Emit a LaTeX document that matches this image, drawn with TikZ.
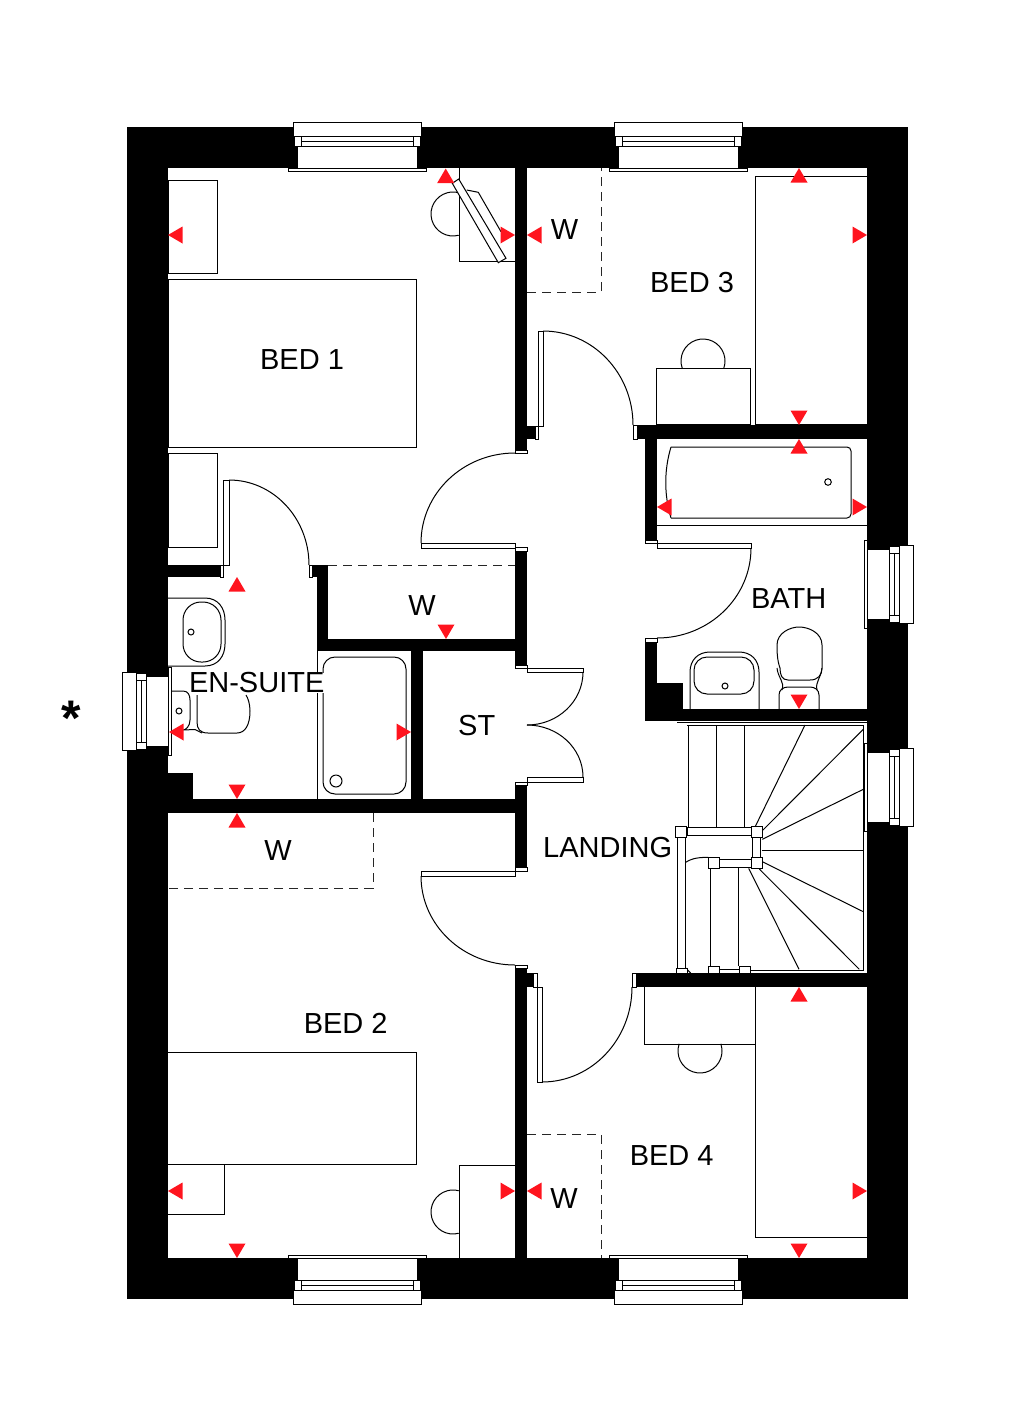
\documentclass[tikz,border=0pt]{standalone}
\usepackage{fontspec}
\setmainfont{Liberation Sans}
\definecolor{markred}{HTML}{FF141E}
\tikzset{
    planline/.style={black, line width=1pt},
    sheet/.style={planline, fill=white},
    hidden/.style={black!85, line width=1pt, dash pattern=on 9pt off 6pt},
    redmark/.style={fill=markred},
    roomname/.style={inner sep=0pt, font=\fontsize{29}{30}\selectfont}
}
% window drawn from its outside face, w = #1
\newcommand{\planwindow}[1]{
    \fill [white] (4,20) rectangle (#1-4,46);
    \draw [sheet] (0,0) rectangle (#1,14);
    \draw [sheet] (1,14) rectangle (#1-1,24);
    \draw [planline] (8,14) -- (8,24);
    \draw [planline] (#1-8,14) -- (#1-8,24);
    \draw [planline] (8,19) -- (#1-8,19);
    \draw [planline] (4,24) -- (4,46);
    \draw [planline] (#1-4,24) -- (#1-4,46);
    \draw [sheet] (-5,46) rectangle (#1+5,49);
}
\begin{document}
\begin{tikzpicture}[x=1pt, y=1pt, yscale=-1]
    \useasboundingbox (0,0) rectangle (1035,1427);

    % outer walls
    \fill (127,127) rectangle (908,168);
    \fill (127,1258) rectangle (908,1299);
    \fill (127,127) rectangle (168,1299);
    \fill (867,127) rectangle (908,1299);

    % inner walls
    \fill (515,168) rectangle (527,450);
    \fill (527,426) rectangle (535,439);
    \fill (515,551) rectangle (527,665);
    \fill (515,785) rectangle (527,867);
    \fill (515,968) rectangle (527,1258);
    \fill (527,973) rectangle (533,987);
    \fill (637,425) rectangle (867,439);
    \fill (645,439) rectangle (657,540);
    \fill (645,642) rectangle (657,721);
    \fill (657,683) rectangle (683,709);
    \fill (645,709) rectangle (867,721);
    \fill (636,973) rectangle (867,987);
    \fill (168,565) rectangle (220,577);
    \fill (312,565) rectangle (328,577);
    \fill (317,577) rectangle (328,651);
    \fill (317,639) rectangle (515,651);
    \fill (411,651) rectangle (423,799);
    \fill (168,799) rectangle (515,813);
    \fill (168,773) rectangle (193,799);

    % windows
    \begin{scope}[shift={(293,122)}]
        \planwindow{128}
    \end{scope}
    \begin{scope}[shift={(614,122)}]
        \planwindow{128}
    \end{scope}
    \begin{scope}[shift={(293,1304)}, yscale=-1]
        \planwindow{128}
    \end{scope}
    \begin{scope}[shift={(614,1304)}, yscale=-1]
        \planwindow{128}
    \end{scope}
    \begin{scope}[cm={0,1,1,0,(122,672)}]
        \planwindow{78}
    \end{scope}
    \begin{scope}[cm={0,1,-1,0,(913,545)}]
        \planwindow{78}
    \end{scope}
    \begin{scope}[cm={0,1,-1,0,(913,748)}]
        \planwindow{78}
    \end{scope}

    % door leaves and jambs
    \draw [sheet] (538,331) rectangle (543,426);
    \draw [sheet] (535,426) rectangle (538,439);
    \draw [planline] (543,331) arc [start angle=-90, end angle=0, x radius=90, y radius=94];
    \draw [sheet] (633,425) rectangle (637,439);

    \draw [sheet] (515,450) rectangle (527,453);
    \draw [planline] (515,453) arc [start angle=-90, end angle=-180, x radius=94, y radius=90];
    \draw [sheet] (421,543) rectangle (515,548);
    \draw [sheet] (515,547) rectangle (527,551);

    \draw [sheet] (645,540) rectangle (657,543);
    \draw [sheet] (657,543) rectangle (751,548);
    \draw [planline] (751,548) arc [start angle=0, end angle=90, x radius=94, y radius=90];
    \draw [sheet] (645,638) rectangle (657,642);

    \draw [sheet] (223,480) rectangle (229,565);
    \draw [planline] (229,480) arc [start angle=-90, end angle=0, x radius=80, y radius=85];
    \draw [sheet] (220,565) rectangle (223,577);
    \draw [sheet] (309,565) rectangle (312,577);

    \draw [sheet] (515,665) rectangle (527,668);
    \draw [sheet] (527,668) rectangle (583,672);
    \draw [planline] (583,672) arc [start angle=0, end angle=90, x radius=56, y radius=53];
    \draw [planline] (527,725) arc [start angle=-90, end angle=0, x radius=56, y radius=52];
    \draw [sheet] (527,777) rectangle (583,782);
    \draw [sheet] (515,782) rectangle (527,785);

    \draw [sheet] (515,867) rectangle (527,871);
    \draw [sheet] (421,871) rectangle (515,876);
    \draw [planline] (421,876) arc [start angle=180, end angle=90, x radius=94, y radius=89];
    \draw [sheet] (515,965) rectangle (527,968);

    \draw [sheet] (533,973) rectangle (537,987);
    \draw [sheet] (537,987) rectangle (542,1082);
    \draw [planline] (542,1082) arc [start angle=90, end angle=0, x radius=90, y radius=95];
    \draw [sheet] (632.5,973) rectangle (636,987);

    % bed 1
    \draw [planline] (168,279) rectangle (416,447);
    \draw [planline] (168,180) rectangle (217,273);
    \draw [planline] (168,453) rectangle (217,547);
    \draw [planline] (515,261) -- (459,261) -- (459,168);
    \draw [planline] (453,214) ++(75:22) arc [start angle=75, end angle=285, radius=22];
    \draw [planline] (466.7,190) -- (478.3,192.3) -- (501,231.7);
    \draw [sheet] (458.7,179) -- (452.3,183.3) -- (498.3,262.7) -- (506,258.3) -- cycle;

    % bed 3
    \draw [hidden] (527,292) -- (601,292) -- (601,168);
    \draw [planline] (867,176) -- (755.7,176) -- (755.7,424) -- (867,424);
    \draw [planline] (656,368) rectangle (750,424);
    \draw [planline] (703,361) ++(161:22) arc [start angle=161, end angle=379, radius=22];

    % bath
    \draw [planline, rounded corners=4pt] (671,447) -- (851,447) -- (851,518) -- (671,518);
    \draw [planline] (671,447) .. controls (664,470) and (664,495) .. (671,518);
    \draw [planline] (828,482) circle (3.3);
    \draw [planline] (657,525) -- (867,525);
    \draw [planline] (690,709) -- (690,672) .. controls (690,660) and (698,652) .. (710,652) -- (739,652) .. controls (751,652) and (759,660) .. (759,672) -- (759,709);
    \draw [planline, rounded corners=13pt] (694,657) rectangle (754,694);
    \draw [planline] (725,686) circle (3);
    \draw [planline] (780,668) .. controls (777,660) and (777,650) .. (777,645) .. controls (777,633) and (790,627) .. (799,627) .. controls (809,627) and (822,633) .. (822,645) -- (822,668) .. controls (822,675) and (818,680) .. (810,680) -- (788,680) .. controls (782,680) and (780,675) .. (780,668);
    \draw [planline] (777,668) .. controls (778,678) and (785,682) .. (782,690);
    \draw [planline] (822,668) .. controls (821,678) and (815,682) .. (817,690);
    \draw [planline] (779,709) -- (779,695) .. controls (779,690) and (783,687) .. (788,687) -- (810,687) .. controls (815,687) and (819,690) .. (819,695) -- (819,709);

    % en-suite
    \draw [planline] (168,598) -- (205,598) .. controls (218,598) and (225,608) .. (225,620) -- (225,644) .. controls (225,656) and (218,666) .. (205,666) -- (168,666);
    \draw [planline, rounded corners=18pt] (183,602) rectangle (221,662);
    \draw [planline] (191,632) circle (3);
    \draw [planline] (171,691) -- (183,691) .. controls (188,691) and (190,695) .. (190,700) -- (190,720) .. controls (190,726) and (186,730) .. (183,730) -- (195,729.5) -- (202,733);
    \draw [planline] (197,695) -- (197,722) .. controls (197,729) and (200,733) .. (208,733) -- (237,733) .. controls (245,733) and (250,725) .. (250,711) .. controls (250,704) and (248,698) .. (246,695);
    \draw [planline] (179,711) circle (3);
    \draw [planline] (317,651) -- (317,799);
    \draw [planline, rounded corners=12pt] (323,657) rectangle (406,794);
    \draw [planline] (336,781) circle (6);

    % small wardrobes
    \draw [hidden] (328,565) -- (515,565);
    \draw [hidden] (373,813) -- (373,888) -- (168,888);
    \draw [hidden] (527,1134) -- (601,1134) -- (601,1258);

    % bed 2
    \draw [planline] (168,1052) -- (416,1052) -- (416,1164) -- (168,1164);
    \draw [planline] (224,1164) -- (224,1214) -- (168,1214);
    \draw [planline] (515,1165) -- (459,1165) -- (459,1258);
    \draw [planline] (453,1212) ++(75:22) arc [start angle=75, end angle=285, radius=22];

    % bed 4
    \draw [planline] (867,1237) -- (755.7,1237) -- (755.7,987);
    \draw [planline] (644,987) -- (644,1044) -- (755.7,1044);
    \draw [planline] (700,1051) ++(199:22) arc [start angle=199, end angle=-19, radius=22];

    % stairs
    \draw [planline] (677,722) -- (867,722);
    \draw [planline] (687,725) -- (863.3,725) -- (863.3,970) -- (750.7,970);
    \draw [planline] (719.7,969.5) -- (739,969.5);
    \foreach \x in {688,716,744} {
        \draw [planline] (\x,725) -- (\x,827);
    }
    \draw [planline] (755,827) -- (805,725);
    \draw [planline] (762.3,830.7) -- (863.3,729.3);
    \draw [planline] (762.3,839.3) -- (863.3,789.3);
    \draw [planline] (761.7,850) -- (863.3,850);
    \draw [planline] (762.3,861.7) -- (863.3,911.7);
    \draw [planline] (759.3,869) -- (859.3,969.3);
    \draw [planline] (748.7,868.3) -- (799,969.3);
    \draw [planline] (710.7,868.7) -- (710.7,966);
    \draw [planline] (738.3,867.3) -- (738.3,966);
    \draw [planline] (685.7,862.3) .. controls (690,859.5) and (695,857.3) .. (708.3,857.3);
    \draw [planline] (685.7,968) -- (690.7,973);
    \draw [sheet] (687,827.3) rectangle (751,835.3);
    \draw [sheet] (752.7,837) rectangle (760.7,857.3);
    \draw [sheet] (719.7,859.3) rectangle (751,867.3);
    \draw [sheet] (677.3,837) rectangle (685.3,968);
    \draw [sheet] (675.7,826) rectangle (686.7,837);
    \draw [sheet] (751,826) rectangle (762.3,837);
    \draw [sheet] (751,857.3) rectangle (762.3,868.7);
    \draw [sheet] (708.3,857.3) rectangle (719.7,868.7);
    \draw [sheet] (676,968) rectangle (687,973);
    \draw [sheet] (708.3,966) rectangle (719.7,973);
    \draw [sheet] (739,966) rectangle (750.7,973);
    \fill (636,973) rectangle (867,987);

    % red marks
    \foreach \x/\y in {445.7/168.5,799/168,799/439,237/577,237/813,799/987} {
        \fill [redmark, shift={(\x,\y)}] (0,0) -- (-8.5,14.5) -- (8.5,14.5) -- cycle;
    }
    \foreach \x/\y in {799/425,799/709,446/639,237/799,799/1258,237/1258} {
        \fill [redmark, shift={(\x,\y)}] (0,0) -- (-8.5,-14.5) -- (8.5,-14.5) -- cycle;
    }
    \foreach \x/\y in {168/235,527/235,657/507,169/732,168/1191,527/1191} {
        \fill [redmark, shift={(\x,\y)}] (0,0) -- (14.5,-8.5) -- (14.5,8.5) -- cycle;
    }
    \foreach \x/\y in {515/235,867/235,867/507,411/732,515/1191,867/1191} {
        \fill [redmark, shift={(\x,\y)}] (0,0) -- (-14.5,-8.5) -- (-14.5,8.5) -- cycle;
    }

    % room names
    \draw (302,359.8) node [roomname] (bedone) {BED 1};
    \draw (692,282.8) node [roomname] (bedthree) {BED 3};
    \draw (345.7,1023.5) node [roomname] (bedtwo) {BED 2};
    \draw (671.7,1155.8) node [roomname] (bedfour) {BED 4};
    \draw (256.7,682.8) node [roomname, fill=white] (ensuite) {EN-SUITE};
    \draw (476.7,725.8) node [roomname] (store) {ST};
    \draw (788.7,598.5) node [roomname] (bathroom) {BATH};
    \draw (607.7,848) node [roomname] (landing) {LANDING};
    \draw (564.5,230) node [roomname] (wardthree) {W};
    \draw (422,605.5) node [roomname] (wardone) {W};
    \draw (278,851) node [roomname] (wardtwo) {W};
    \draw (564,1198.5) node [roomname] (wardfour) {W};
    \draw (71,718) node [inner sep=0pt, font=\fontsize{50}{50}\selectfont\bfseries] (starmark) {*};
\end{tikzpicture}
\end{document}
